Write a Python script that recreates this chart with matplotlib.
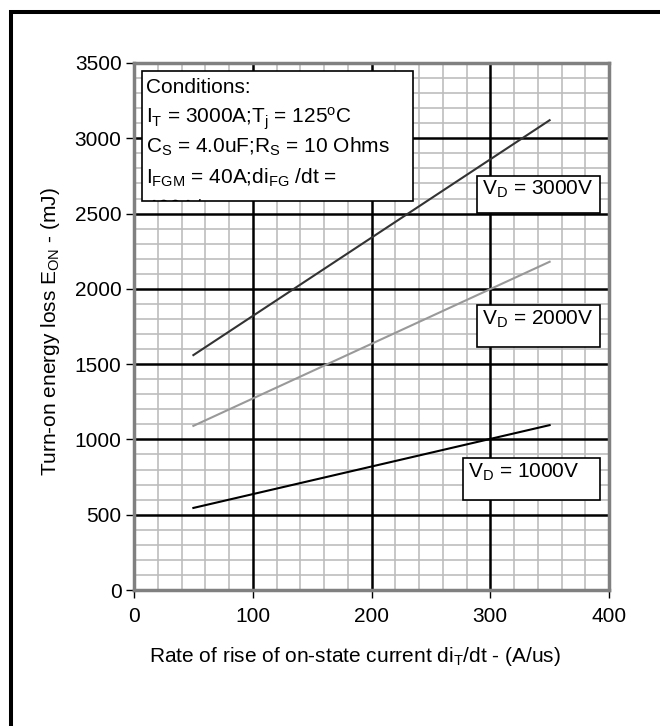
import matplotlib
matplotlib.use("Agg")
import matplotlib.pyplot as plt
from matplotlib.patches import Rectangle, PathPatch
from matplotlib.textpath import TextPath
from matplotlib.font_manager import FontProperties
from matplotlib.transforms import Affine2D
from matplotlib.ticker import MultipleLocator

plt.rcParams['font.family'] = ['Liberation Sans', 'DejaVu Sans']
plt.rcParams['mathtext.default'] = 'regular'

# data
didt = [50, 350]
eon_3000 = [1560, 3120]
eon_2000 = [1090, 2180]
eon_1000 = [545, 1095]
series = [
    ('3000', eon_3000, '#333333'),
    ('2000', eon_2000, '#999999'),
    ('1000', eon_1000, '#000000'),
]
cond_lines = [
    'Conditions:',
    'I$_T$ = 3000A;T$_j$ = 125$^o$C',
    'C$_S$ = 4.0uF;R$_S$ = 10 Ohms',
    'I$_{FGM}$ = 40A;di$_{FG}$ /dt =',
]
cond_last = '400A/us'
FS = 15

fig = plt.figure(figsize=(6.6, 7.26), dpi=100)
ax = fig.add_axes([134/660, 1-590/726, 475/660, 527/726])

# outer frame (only top and left edges show)
fig.patches.append(Rectangle((11/660, -0.1), 1.2, 714/726 + 0.1,
                             transform=fig.transFigure, fill=False,
                             ec='black', lw=2.9))

for name, y, c in series:
    ax.plot(didt, y, color=c, lw=1.5, zorder=3)

ax.set_xlim(0, 400)
ax.set_ylim(0, 3500)
ax.xaxis.set_major_locator(MultipleLocator(100))
ax.xaxis.set_minor_locator(MultipleLocator(20))
ax.yaxis.set_major_locator(MultipleLocator(500))
ax.yaxis.set_minor_locator(MultipleLocator(100))
ax.grid(which='minor', color='#bdbdbd', lw=1.2)
ax.set_axisbelow(True)
# major grid on top of the minor one
for xv in ax.get_xticks():
    ax.axvline(xv, color='black', lw=1.8, zorder=1)
for yv in ax.get_yticks():
    ax.axhline(yv, color='black', lw=1.8, zorder=1)
ax.set_xlim(0, 400)
ax.set_ylim(0, 3500)

for s in ax.spines.values():
    s.set_color('#808080')
    s.set_linewidth(2.5)
    s.set_zorder(2)
ax.tick_params(which='major', direction='out', length=6, width=1,
               color='black', labelsize=FS)
ax.tick_params(which='minor', length=0)
ax.tick_params(axis='x', pad=6)
ax.tick_params(axis='y', pad=3)

ax.set_xlabel('Rate of rise of on-state current di$_T$/dt - (A/us)',
              fontsize=FS)
ax.xaxis.set_label_coords(0.464, -0.105)
ax.set_ylabel('Turn-on energy loss E$_{ON}$ - (mJ)', fontsize=FS)
ax.yaxis.set_label_coords(-0.152, 0.49)

# conditions box, last line cut off by the box edge
box = Rectangle((0.017, 0.739), 0.570, 0.246, transform=ax.transAxes,
                fc='white', ec='black', lw=1.2, zorder=4)
ax.add_patch(box)
base = [0.943, 0.885, 0.829, 0.771]
for line, yb in zip(cond_lines, base):
    ax.text(0.026, yb, line, transform=ax.transAxes, fontsize=FS,
            va='baseline', ha='left', zorder=5)
tp = TextPath((0, 0), cond_last, size=FS,
              prop=FontProperties(family='Liberation Sans'))
xd, yd = ax.transAxes.transform((0.026, 0.713))
pp = PathPatch(tp, transform=Affine2D().scale(fig.dpi/72).translate(xd, yd),
               fc='black', ec='none', zorder=5)
ax.add_artist(pp)
pp.set_clip_path(box)

# voltage labels
labels = [
    ('3000', 0.722, 0.716, 0.259, 0.070, 0.733, 0.750),
    ('2000', 0.722, 0.461, 0.259, 0.080, 0.733, 0.504),
    ('1000', 0.693, 0.170, 0.288, 0.080, 0.703, 0.214),
]
for v, x0, y0, w, h, tx, ty in labels:
    ax.add_patch(Rectangle((x0, y0), w, h, transform=ax.transAxes,
                           fc='white', ec='black', lw=1.2, zorder=4))
    ax.text(tx, ty, 'V$_D$ = %sV' % v, transform=ax.transAxes,
            fontsize=FS, va='baseline', ha='left', zorder=5)

fig.savefig('out.png', dpi=100)
